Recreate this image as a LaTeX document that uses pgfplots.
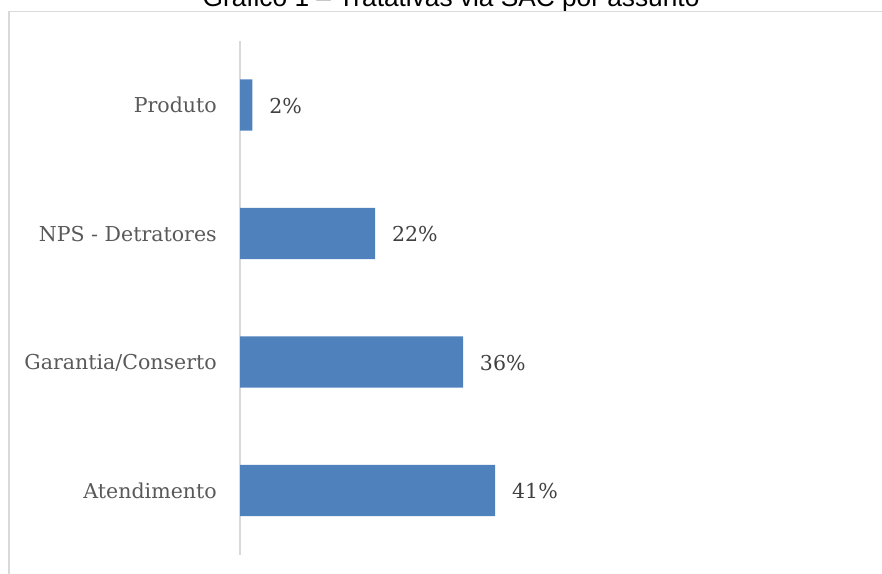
\documentclass[border=0pt]{standalone}
\usepackage{fontspec}
\setmainfont{DejaVu Serif}
\newfontfamily\titlefont{Liberation Sans}
\usepackage{pgfplots}
\pgfplotsset{compat=1.18}
\definecolor{barblue}{HTML}{4F81BD}
\definecolor{lblgray}{HTML}{595959}
\definecolor{valgray}{HTML}{404040}
\definecolor{framegray}{HTML}{D9D9D9}
\begin{document}
\begin{tikzpicture}
\useasboundingbox (0,0) rectangle (661.5pt,430.5pt);
\clip (0,0) rectangle (661.5pt,430.5pt);
\node[anchor=base, inner sep=0pt, font=\titlefont\fontsize{19.7}{22}\selectfont] at (338.25pt,425.25pt) {Gráfico 1 – Tratativas via SAC por assunto};
\draw[framegray, line width=1.1pt] (6.75pt,-5pt) -- (6.75pt,421.9pt) -- (670pt,421.9pt);
\begin{axis}[
  at={(180pt,14.44pt)}, anchor=south west,
  scale only axis, width=469.2pt, height=385.5pt,
  xbar, bar width=0.4,
  xmin=0, xmax=100, ymin=-0.5, ymax=3.5,
  axis x line=none, axis y line=left,
  axis line style={-, framegray, line width=1.2pt},
  ytick={0,1,2,3}, yticklabels={Atendimento,Garantia/Conserto,NPS - Detratores,Produto},
  major tick length=0pt, ytick style={draw=none},
  yticklabel style={anchor=base east, inner sep=0pt, xshift=-17.25pt, yshift=-6pt, text=lblgray, font=\fontsize{15.4}{18}\selectfont},
  point meta=explicit symbolic,
  nodes near coords,
  every node near coord/.append style={anchor=base west, inner sep=0pt, xshift=12.5pt, yshift=-6.2pt, text=valgray, font=\fontsize{15.4}{18}\selectfont},
]
\addplot[fill=barblue, draw=none] coordinates {(40.8,0) [41\%] (35.65,1) [36\%] (21.6,2) [22\%] (1.97,3) [2\%]};
\end{axis}
\end{tikzpicture}
\end{document}
